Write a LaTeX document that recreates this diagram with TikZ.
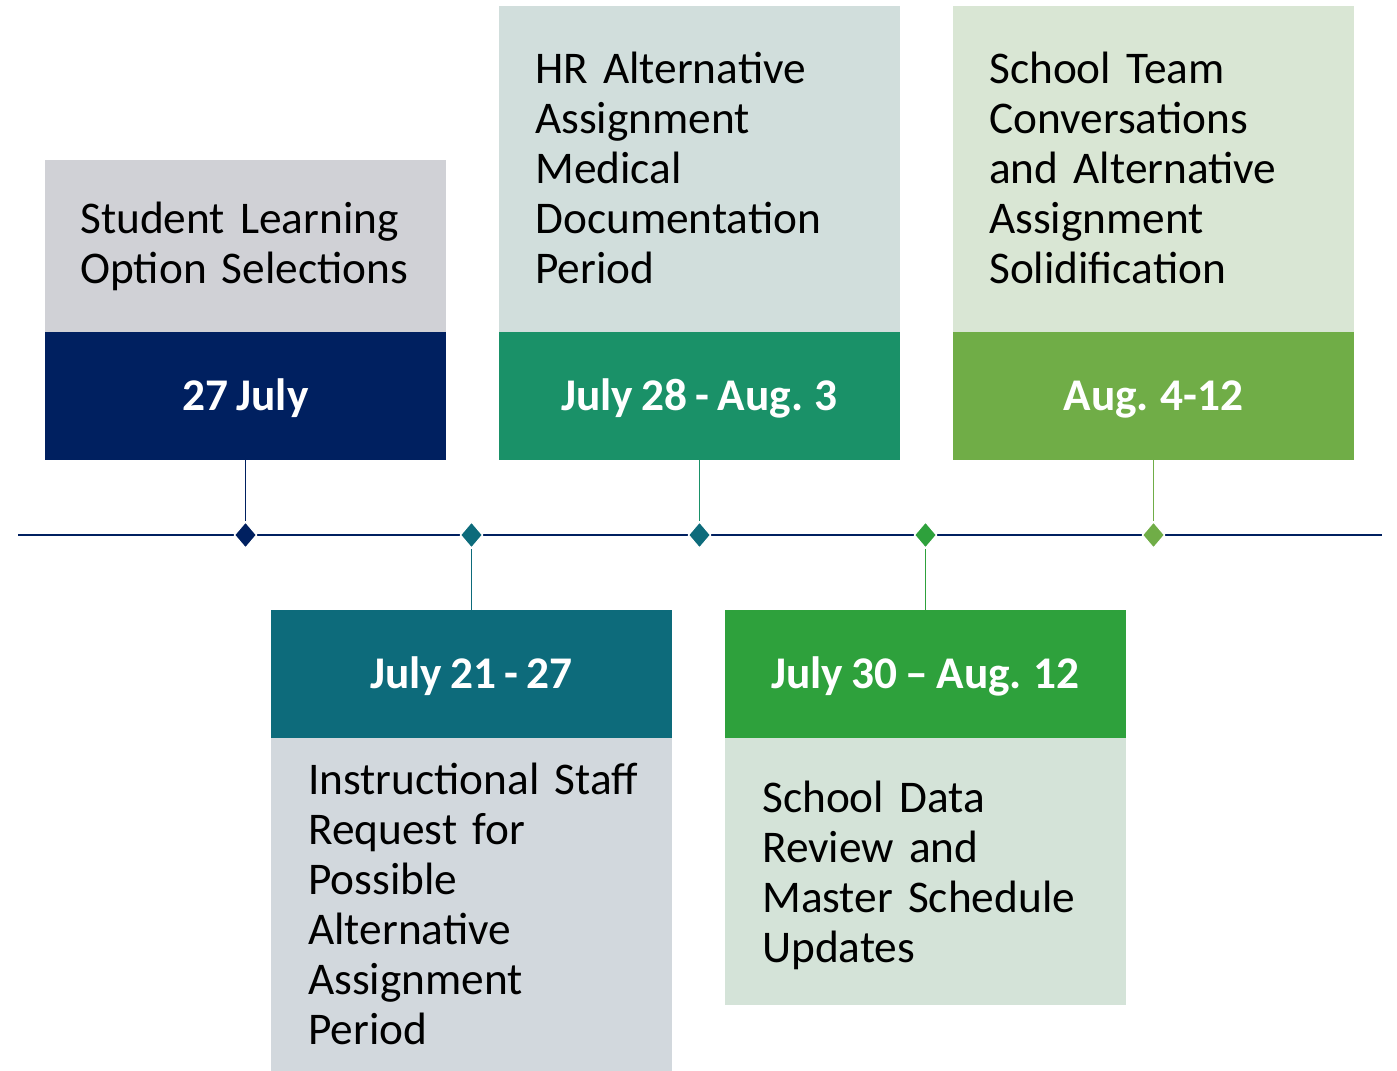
\documentclass[tikz,border=0pt]{standalone}
\usepackage{fontspec}
\setmainfont[WordSpace=0.8]{Carlito}
\usetikzlibrary{shapes.geometric}
\definecolor{navy}{HTML}{002060}
\definecolor{teal}{HTML}{0D6B7B}
\definecolor{jade}{HTML}{1A9168}
\definecolor{grn}{HTML}{2EA13C}
\definecolor{lgrn}{HTML}{70AD47}
\definecolor{gA}{HTML}{D0D1D6}
\definecolor{gB}{HTML}{D1DEDC}
\definecolor{gC}{HTML}{D9E6D4}
\definecolor{gD}{HTML}{D2D8DD}
\definecolor{gE}{HTML}{D4E3D8}
\tikzset{
  panel/.style={rectangle, inner sep=0pt, minimum width=300.75pt, draw=none},
  datebox/.style={panel, minimum height=96pt, text=white,
     font=\fontsize{34}{37.5}\selectfont\bfseries, text height=21.8pt, text depth=0pt},
  body/.style={anchor=base west, inner sep=0pt, text width=285pt, align=left,
     font=\fontsize{34}{37.5}\selectfont},
  tickmark/.style={diamond, inner sep=0pt, minimum width=17pt, minimum height=20pt,
     draw=white, line width=1pt},
  conn/.style={line width=1.3pt}
}
\begin{document}
\begin{tikzpicture}[x=0.75pt,y=-0.75pt]
\path[use as bounding box, fill=white] (0,0) rectangle (1397,1071);
% top panels
\node[panel, fill=gA, minimum height=129pt] (p1) at (245.5,246) {};
\node[datebox, fill=navy] (t1) at (245.5,396) {27 July};
\node[panel, fill=gB, minimum height=244.5pt] (p3) at (699.5,169) {};
\node[datebox, fill=jade] (t3) at (699.5,396) {July 28 - Aug. 3};
\node[panel, fill=gC, minimum height=244.5pt] (p5) at (1153.5,169) {};
\node[datebox, fill=lgrn] (t5) at (1153.5,396) {Aug. 4-12};
% bottom panels
\node[datebox, fill=teal] (t2) at (471.5,674) {July 21 - 27};
\node[panel, fill=gD, minimum height=249.75pt] (p2) at (471.5,904.5) {};
\node[datebox, fill=grn] (t4) at (925.5,674) {July 30 – Aug. 12};
\node[panel, fill=gE, minimum height=200.25pt] (p4) at (925.5,871.5) {};
% texts
\node[body] (x1) at (80,233) {Student Learning\\Option Selections};
\node[body] (x3) at (535,83) {HR Alternative\\Assignment\\Medical\\Documentation\\Period};
\node[body] (x5) at (989,83) {School Team\\Conversations\\and Alternative\\Assignment\\Solidification};
\node[body] (x2) at (308,794) {Instructional Staff\\Request for\\Possible\\Alternative\\Assignment\\Period};
\node[body] (x4) at (762,812) {School Data\\Review and\\Master Schedule\\Updates};
% timeline
\coordinate (L) at (18,535);
\coordinate (R) at (1382,535);
\draw[navy, line width=1.6pt] (L) -- (R);
\node[tickmark, fill=navy] (d1) at (245.5,535) {};
\node[tickmark, fill=teal] (d2) at (471.5,535) {};
\node[tickmark, fill=teal] (d3) at (699.5,535) {};
\node[tickmark, fill=grn] (d4) at (925.5,535) {};
\node[tickmark, fill=lgrn] (d5) at (1153.5,535) {};
% connectors
\draw[conn, navy] (t1.south) -- (d1.north);
\draw[conn, jade] (t3.south) -- (d3.north);
\draw[conn, lgrn] (t5.south) -- (d5.north);
\draw[conn, teal] (d2.south) -- (t2.north);
\draw[conn, grn] (d4.south) -- (t4.north);
\end{tikzpicture}
\end{document}
